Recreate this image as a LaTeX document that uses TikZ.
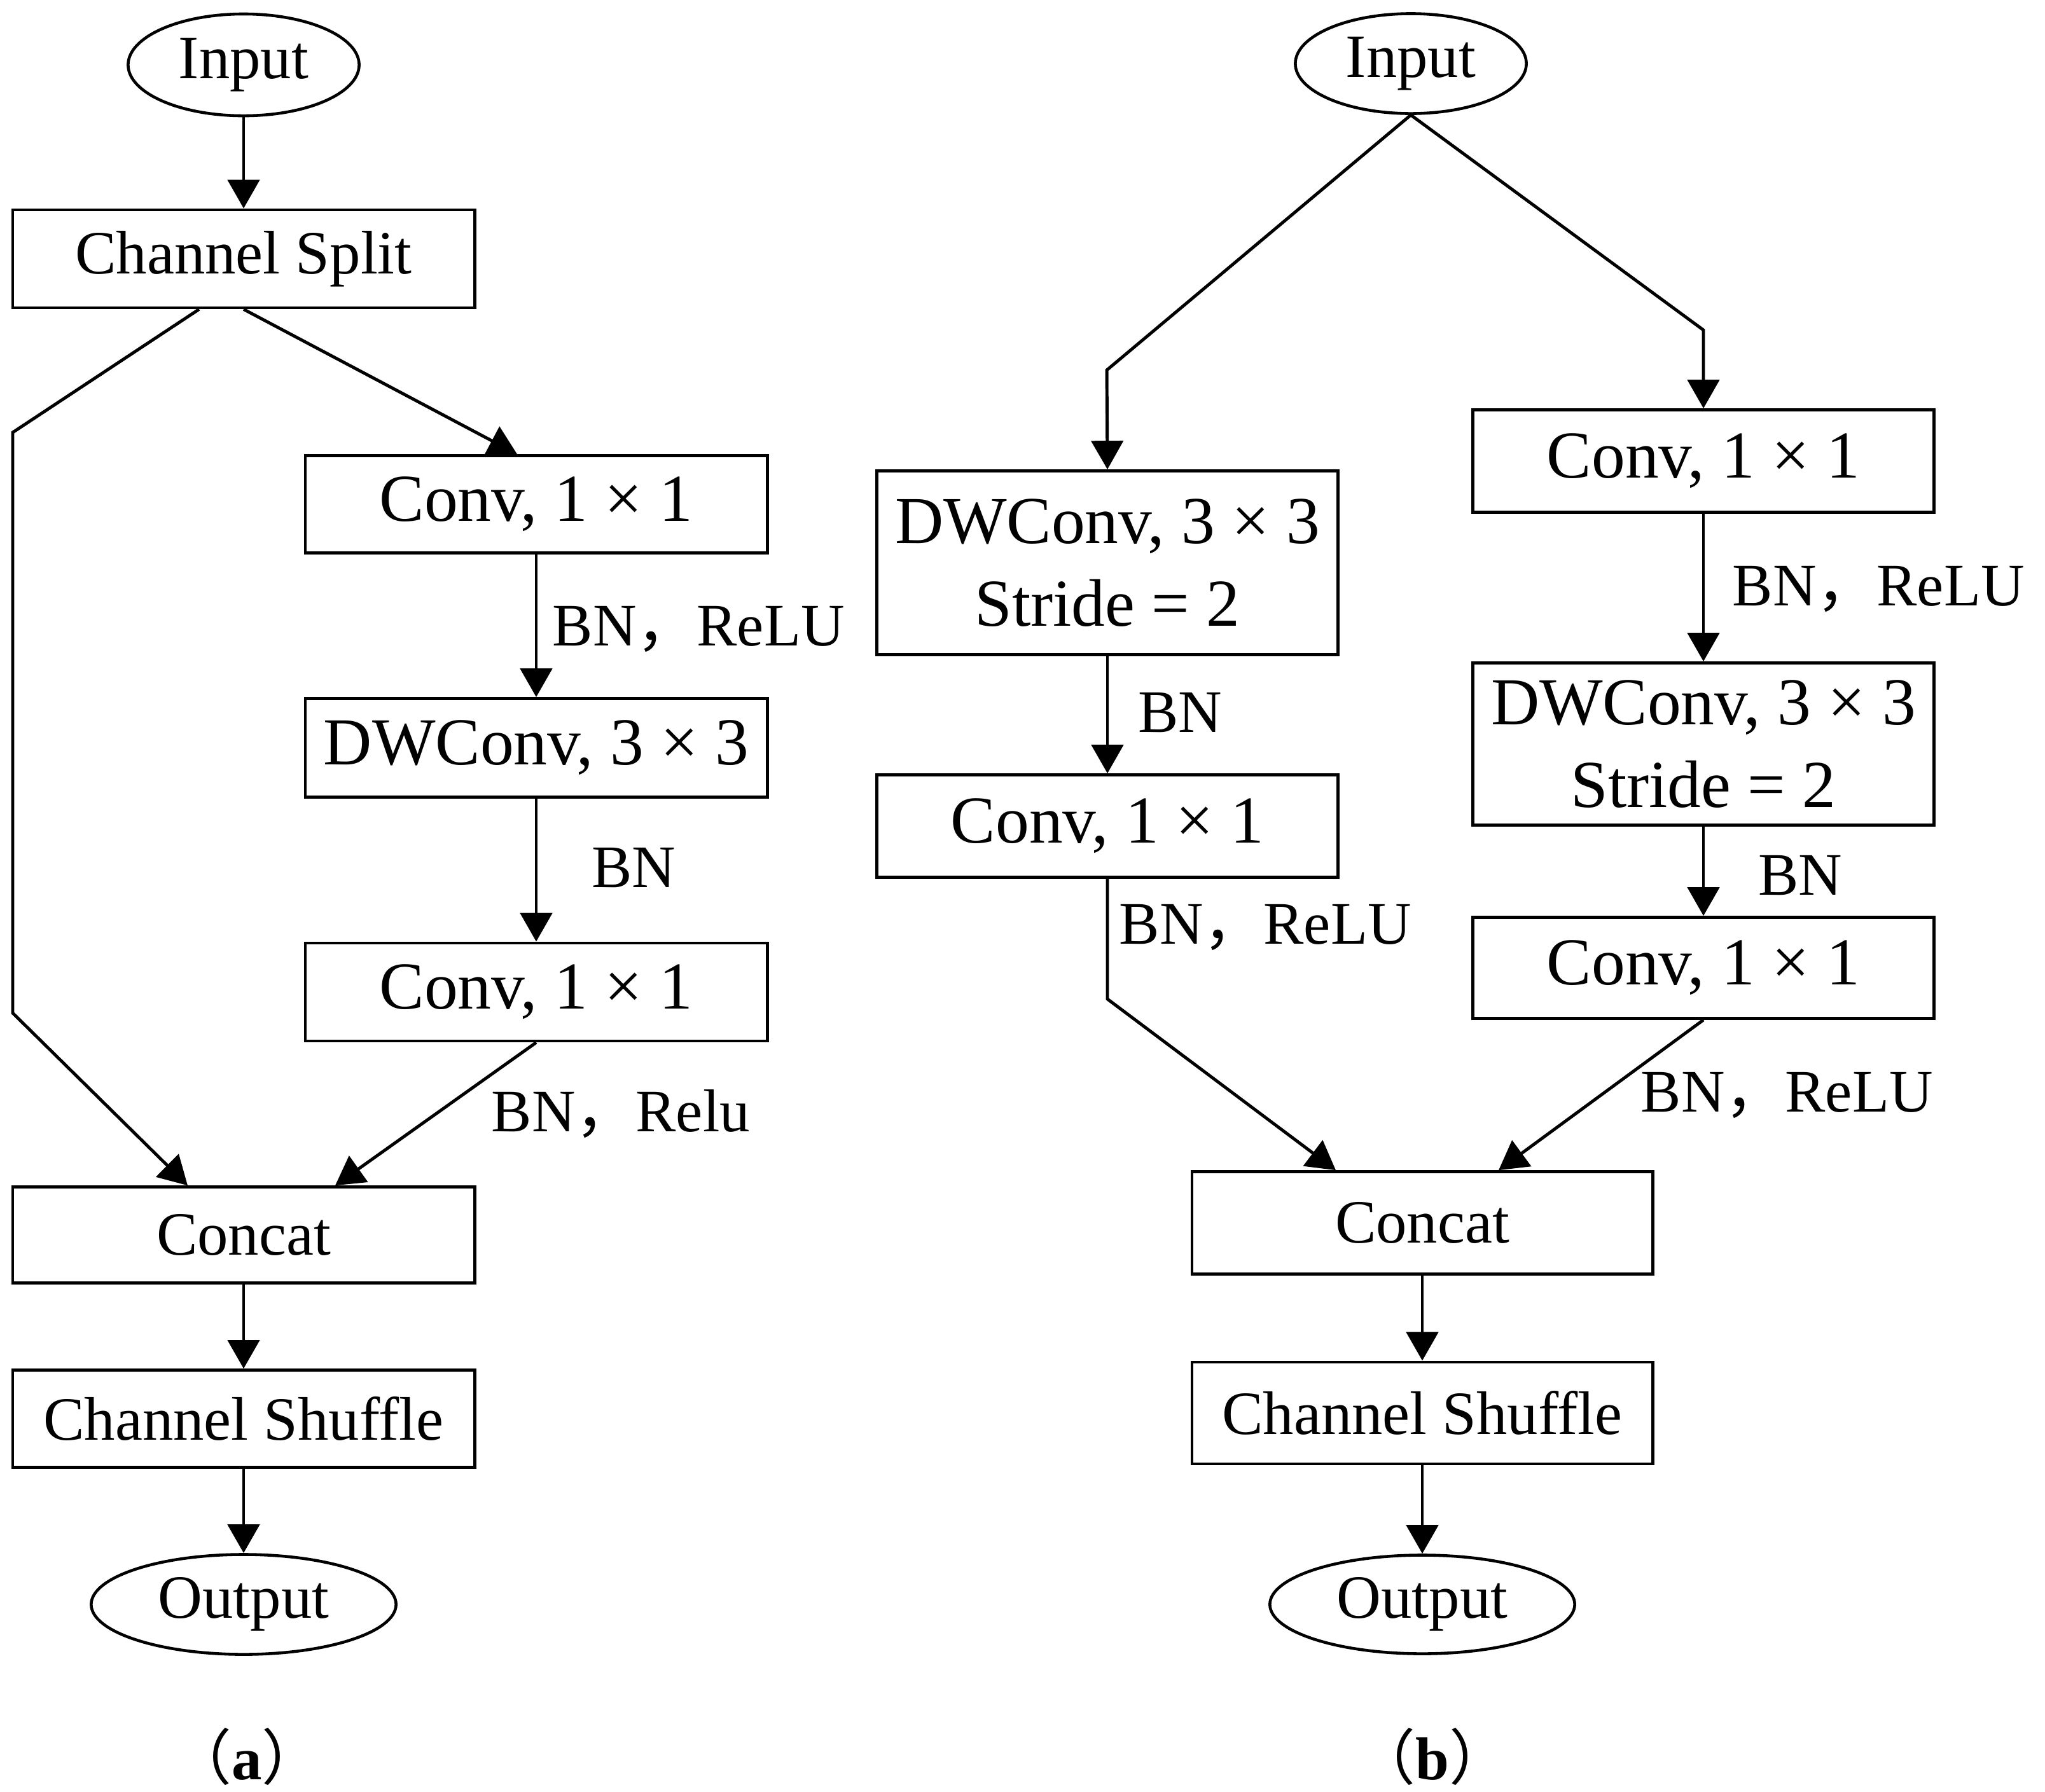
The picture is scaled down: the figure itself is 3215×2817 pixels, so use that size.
\documentclass[tikz,border=0pt]{standalone}
\usepackage{fontspec}
\setmainfont{Liberation Serif}
\newfontfamily\cjk{Noto Sans CJK SC}
\usetikzlibrary{arrows.meta,calc,shapes.geometric}
\tikzset{
  box/.style={draw, line width=1.3pt, rectangle, minimum width=7.26cm, inner sep=0pt, align=center, font=\fontsize{30}{37}\selectfont},
  sbox/.style={box, font=\fontsize{27.5}{33}\selectfont},
  oval/.style={draw, line width=1.3pt, ellipse, inner sep=0pt, minimum width=3.63cm, minimum height=1.6cm, font=\fontsize{27.5}{33}\selectfont},
  lbl/.style={inner sep=0pt, font=\fontsize{27}{32}\selectfont},
  captxt/.style={inner sep=0pt, font=\fontsize{27}{32}\selectfont},
  conn/.style={line width=1.4pt, -{Triangle[length=0.45cm,width=0.5cm]}},
}
\newcommand{\fwc}{{\cjk ，}}
\begin{document}
\begin{tikzpicture}[x=0.01cm,y=-0.01cm]
\useasboundingbox (0,0) rectangle (3215,2817);
% ---------- (a) ----------
\node[oval] (inA) at (383,102) {Input};
\node[sbox, minimum height=1.54cm] (split) at (383,407) {Channel Split};
\node[box, minimum height=1.53cm] (conv1a) at (843,793) {Conv, 1 × 1};
\node[box, minimum height=1.55cm] (dwa) at (843,1176) {DWConv, 3 × 3};
\node[box, minimum height=1.54cm] (conv2a) at (843,1560) {Conv, 1 × 1};
\node[sbox, minimum height=1.51cm] (concatA) at (383,1942) {Concat};
\node[sbox, minimum height=1.53cm] (shufA) at (383,2231) {Channel Shuffle};
\node[oval, minimum width=4.79cm, minimum height=1.57cm] (outA) at (383,2523) {Output};
\node[lbl, anchor=west] (la1) at (868,989) {BN\fwc ReLU};
\node[lbl] (la2) at (996,1365) {BN};
\node[lbl, anchor=west] (la3) at (772,1752) {BN\fwc Relu};
\node[captxt] (capa) at (388,2762) {{\cjk （}\textbf{a}{\cjk ）}};
\coordinate (pa1) at (20,680);
\coordinate (pa2) at (20,1593);
\draw[conn] (inA) -- (split);
\draw[conn] ($(split.south)+(-70,0)$) -- (pa1) -- (pa2) -- ($(concatA.north)+(-88,0)$);
\draw[conn] (split.south) -- ($(conv1a.north)+(-30,0)$);
\draw[conn] (conv1a) -- (dwa);
\draw[conn] (dwa) -- (conv2a);
\draw[conn] (conv2a.south) -- ($(concatA.north)+(144,0)$);
\draw[conn] (concatA) -- (shufA);
\draw[conn] (shufA) -- (outA);
% ---------- (b) ----------
\node[oval, minimum height=1.57cm] (inB) at (2218,100) {Input};
\node[box, minimum width=7.25cm, minimum height=2.89cm] (dwB1) at (1741,885) {DWConv, 3 × 3\\Stride = 2};
\node[box, minimum width=7.25cm, minimum height=1.61cm] (convB1) at (2678,725) {Conv, 1 × 1};
\node[box, minimum width=7.25cm, minimum height=1.61cm] (convB2) at (1741,1299) {Conv, 1 × 1};
\node[box, minimum width=7.25cm, minimum height=2.55cm] (dwB2) at (2678,1170) {DWConv, 3 × 3\\Stride = 2};
\node[box, minimum width=7.25cm, minimum height=1.59cm] (convB3) at (2678,1522) {Conv, 1 × 1};
\node[sbox, minimum width=7.24cm, minimum height=1.61cm] (concatB) at (2236,1923) {Concat};
\node[sbox, minimum width=7.24cm, minimum height=1.6cm] (shufB) at (2236,2222) {Channel Shuffle};
\node[oval, minimum width=4.79cm, minimum height=1.55cm] (outB) at (2236,2523) {Output};
\node[lbl, anchor=west] (lb1) at (2723,926) {BN\fwc ReLU};
\node[lbl] (lb2) at (1855,1121) {BN};
\node[lbl, anchor=west] (lb3) at (1759,1458) {BN\fwc ReLU};
\node[lbl] (lb4) at (2830,1377) {BN};
\node[lbl, anchor=west] (lb5) at (2579,1722) {BN\fwc ReLU};
\node[captxt] (capb) at (2252,2762) {{\cjk （}\textbf{b}{\cjk ）}};
\coordinate (pb1) at (1740,582);
\coordinate (pb2) at (2678,519);
\coordinate (pb3) at (1741,1571);
\draw[conn] (inB.south) -- (pb1) -- (dwB1.north);
\draw[conn] (inB.south) -- (pb2) -- (convB1.north);
\draw[conn] (dwB1) -- (convB2);
\draw[conn] (convB1) -- (dwB2);
\draw[conn] (dwB2) -- (convB3);
\draw[conn] (convB2.south) -- (pb3) -- ($(concatB.north)+(-136,0)$);
\draw[conn] (convB3.south) -- ($(concatB.north)+(120,0)$);
\draw[conn] (concatB) -- (shufB);
\draw[conn] (shufB) -- (outB);
\end{tikzpicture}
\end{document}
